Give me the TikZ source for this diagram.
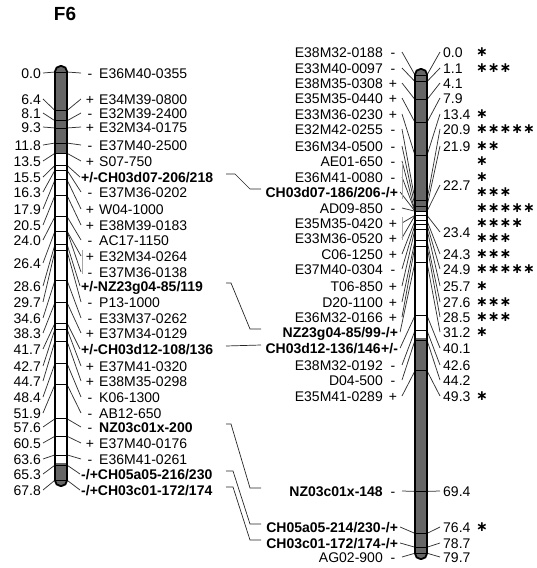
\documentclass[tikz,border=0pt]{standalone}
\usepackage{fontspec}
\setmainfont{Liberation Sans}
\newfontfamily\astfont{DejaVu Sans}
\newcommand{\LM}[5]{%
  \pgfmathsetmacro{\py}{72+6.02*#2}%
  \node[lbl,anchor=east] (ln#1) at (41,#3) {#2};
  \node[lbl] (ls#1) at (90,#3) {#4};
  \node[lbl,anchor=west] (lm#1) at (99,#3) {#5};
  \coordinate (lb#1) at (55,\py);
  \coordinate (lc#1) at (67,\py);
  \draw[tickline] (lb#1) -- (lc#1);
  \draw[lead] ([xshift=2pt]ln#1.east) -- (lb#1);
  \draw[lead] (lc#1) -- ([xshift=-9pt]ls#1.center);
}
\newcommand{\LMB}[4]{%
  \pgfmathsetmacro{\py}{72+6.02*#2}%
  \node[lbl,anchor=east] (ln#1) at (41,#3) {#2};
  \node[lbl,anchor=west,font=\fontsize{14}{14}\selectfont\bfseries] (lm#1) at (81,#3) {#4};
  \coordinate (lb#1) at (55,\py);
  \coordinate (lc#1) at (67,\py);
  \draw[tickline] (lb#1) -- (lc#1);
  \draw[lead] ([xshift=2pt]ln#1.east) -- (lb#1);
  \draw[lead] (lc#1) -- ([xshift=-1pt]lm#1.west);
}
\newcommand{\RM}[6]{%
  \pgfmathsetmacro{\py}{75+6*#2}%
  \node[lbl,anchor=east] (rm#1) at (383,#3) {#5};
  \node[lbl] (rs#1) at (393,#3) {#4};
  \coordinate (rb#1) at (415,\py);
  \coordinate (rc#1) at (427,\py);
  \draw[tickline] (rb#1) -- (rc#1);
  \draw[lead] ([xshift=9pt]rs#1.center) -- (rb#1);
  \node[lbl,anchor=west] (rn#1) at (443,#3) {#6};
  \draw[lead] (rc#1) -- ([xshift=-3pt]rn#1.west);
}
\newcommand{\RG}[5]{%
  \pgfmathsetmacro{\py}{75+6*#2}%
  \node[lbl,anchor=east] (rm#1) at (383,#3) {#5};
  \node[lbl] (rs#1) at (393,#3) {#4};
  \coordinate (rb#1) at (415,\py);
  \coordinate (rc#1) at (427,\py);
  \draw[tickline] (rb#1) -- (rc#1);
  \draw[lead] ([xshift=9pt]rs#1.center) -- (rb#1);
}
\newcommand{\RMD}[6]{%
  \pgfmathsetmacro{\py}{75+6*#2}%
  \node[lbl,anchor=east,font=\fontsize{14}{14}\selectfont\bfseries] (rm#1) at (381,#3) {#5};
  \node[lbl,anchor=west,font=\fontsize{14}{14}\selectfont\bfseries] (rs#1) at (rm#1.east) {#4};
  \coordinate (rb#1) at (415,\py);
  \coordinate (rc#1) at (427,\py);
  \draw[tickline] (rb#1) -- (rc#1);
  \draw[lead] ([xshift=2pt]rs#1.east) -- (rb#1);
  \node[lbl,anchor=west] (rn#1) at (443,#3) {#6};
  \draw[lead] (rc#1) -- ([xshift=-3pt]rn#1.west);
}
\newcommand{\RGD}[5]{%
  \pgfmathsetmacro{\py}{75+6*#2}%
  \node[lbl,anchor=east,font=\fontsize{14}{14}\selectfont\bfseries] (rm#1) at (381,#3) {#5};
  \node[lbl,anchor=west,font=\fontsize{14}{14}\selectfont\bfseries] (rs#1) at (rm#1.east) {#4};
  \coordinate (rb#1) at (415,\py);
  \coordinate (rc#1) at (427,\py);
  \draw[tickline] (rb#1) -- (rc#1);
  \draw[lead] ([xshift=2pt]rs#1.east) -- (rb#1);
}
\newcommand{\RA}[3]{\node[ast,anchor=west] (ra#1) at (476,#2) {#3};}
\begin{document}
\begin{tikzpicture}[x=1pt,y=-1pt,
  lbl/.style={inner sep=0pt,text height=10pt,text depth=0pt,font=\fontsize{14}{14}\selectfont},
  ast/.style={inner sep=0pt,font=\fontsize{14}{14}\selectfont\astfont\bfseries},
  lead/.style={line width=0.75pt,black!80},
  tickline/.style={line width=0.7pt,black},
  chrom/.style={line width=1.8pt,black,rounded corners=5.5pt},
  shadefill/.style={fill=black!60},
  brk/.style={line width=0.7pt,black!35},
  conn/.style={line width=0.7pt,black!85}
]
\useasboundingbox (0,0) rectangle (537,568);
\node[font=\fontsize{19}{19}\selectfont\bfseries,inner sep=0pt] (title) at (65,14) {F6};

% ---------- left chromosome -------------
\begin{scope}
  \clip[rounded corners=5.5pt] (55,66) rectangle (67,486);
  \fill[shadefill] (55,60) rectangle (67,153);
  \fill[shadefill] (55,463) rectangle (67,490);
\end{scope}
\LM{1}{0.0}{73}{-}{E36M40-0355}
\LM{2}{6.4}{99}{+}{E34M39-0800}
\LM{3}{8.1}{113}{-}{E32M39-2400}
\LM{4}{9.3}{127}{+}{E32M34-0175}
\LM{5}{11.8}{145}{-}{E37M40-2500}
\LM{6}{13.5}{161}{+}{S07-750}
\LMB{7}{15.5}{177}{+/-CH03d07-206/218}
\LM{8}{16.3}{192}{-}{E37M36-0202}
\LM{9}{17.9}{209}{+}{W04-1000}
\LM{10}{20.5}{225}{+}{E38M39-0183}
\LM{11}{24.0}{240}{-}{AC17-1150}
% group at 26.4
\node[lbl,anchor=east] (ln12) at (41,263) {26.4};
\coordinate (lb12) at (55,231);
\coordinate (lc12) at (67,231);
\draw[tickline] (lb12) -- (lc12);
\draw[lead] ([xshift=2pt]ln12.east) -- (lb12);
\node[lbl] (ls12a) at (90,256) {+};
\node[lbl,anchor=west] (lm12a) at (99,256) {E32M34-0264};
\node[lbl] (ls12b) at (90,272) {-};
\node[lbl,anchor=west] (lm12b) at (99,272) {E37M36-0138};
\draw[lead] (lc12) -- ([xshift=-9pt]ls12a.center);
\draw[lead] (lc12) -- ([xshift=-9pt]ls12b.center);
\draw[brk] ([xshift=-8pt,yshift=6pt]ls12a.center) -- ([xshift=-8pt,yshift=-2pt]ls12b.center);
\LMB{13}{28.6}{286}{+/-NZ23g04-85/119}
\LM{14}{29.7}{302}{-}{P13-1000}
\LM{15}{34.6}{318}{-}{E33M37-0262}
\LM{16}{38.3}{333}{+}{E37M34-0129}
\LMB{17}{41.7}{349}{+/-CH03d12-108/136}
\LM{18}{42.7}{366}{+}{E37M41-0320}
\LM{19}{44.7}{381}{+}{E38M35-0298}
\LM{20}{48.4}{397}{-}{K06-1300}
\LM{21}{51.9}{413}{-}{AB12-650}
\LM{22}{57.6}{427}{-}{\bfseries NZ03c01x-200}
\LM{23}{60.5}{443}{+}{E37M40-0176}
\LM{24}{63.6}{459}{-}{E36M41-0261}
\LMB{25}{65.3}{474}{-/+CH05a05-216/230}
\LMB{26}{67.8}{490}{-/+CH03c01-172/174}
\draw[chrom] (55,66) rectangle (67,486);

% ---------- right chromosome -------------
\begin{scope}
  \clip[rounded corners=5.5pt] (415,69) rectangle (427,559);
  \fill[shadefill] (415,60) rectangle (427,212);
  \fill[shadefill] (415,338) rectangle (427,565);
\end{scope}
\RM{1}{0.0}{52}{-}{E38M32-0188}{0.0}
\RM{2}{1.1}{68}{-}{E33M40-0097}{1.1}
\RM{3}{4.1}{83}{+}{E38M35-0308}{4.1}
\RM{4}{7.9}{98}{+}{E35M35-0440}{7.9}
\RM{5}{13.4}{114}{+}{E33M36-0230}{13.4}
\RM{6}{20.9}{129}{-}{E32M42-0255}{20.9}
\RM{7}{21.9}{146}{-}{E36M34-0500}{21.9}
\RG{8}{22.7}{161}{-}{AE01-650}
\RG{9}{22.7}{177}{-}{E36M41-0080}
\RGD{10}{22.7}{192}{-/+}{CH03d07-186/206}
\RG{11}{22.7}{208}{-}{AD09-850}
\node[lbl,anchor=west] (rn8) at (443,185) {22.7};
\draw[lead] (rc8) -- ([xshift=-3pt]rn8.west);
\draw[brk] (402,163) -- (402,199);
\RG{12}{23.4}{223}{+}{E35M35-0420}
\RG{13}{23.4}{238}{+}{E33M36-0520}
\node[lbl,anchor=west] (rn12) at (443,232) {23.4};
\draw[lead] (rc12) -- ([xshift=-3pt]rn12.west);
\draw[brk] (402,217) -- (402,240);
\RM{14}{24.3}{254}{+}{C06-1250}{24.3}
\RM{15}{24.9}{269}{-}{E37M40-0304}{24.9}
\RM{16}{25.7}{286}{+}{T06-850}{25.7}
\RM{17}{27.6}{302}{+}{D20-1100}{27.6}
\RM{18}{28.5}{317}{+}{E36M32-0166}{28.5}
\RMD{19}{31.2}{332}{-/+}{NZ23g04-85/99}{31.2}
\RMD{20}{40.1}{348}{+/-}{CH03d12-136/146}{40.1}
\RM{21}{42.6}{365}{-}{E38M32-0192}{42.6}
\RM{22}{44.2}{380}{-}{D04-500}{44.2}
\RM{23}{49.3}{396}{+}{E35M41-0289}{49.3}
\RM{24}{69.4}{491}{-}{\bfseries NZ03c01x-148}{69.4}
\RMD{25}{76.4}{527}{-/+}{CH05a05-214/230}{76.4}
\RMD{26}{78.7}{543}{-/+}{CH03c01-172/174}{78.7}
\RM{27}{79.7}{557}{-}{AG02-900}{79.7}
\draw[chrom] (415,69) rectangle (427,559);

% asterisks
\RA{1}{52}{∗}
\RA{2}{68}{∗∗∗}
\RA{5}{114}{∗}
\RA{6}{129}{∗∗∗∗∗}
\RA{7}{146}{∗∗}
\RA{8}{161}{∗}
\RA{9}{177}{∗}
\RA{10}{192}{∗∗∗}
\RA{11}{208}{∗∗∗∗∗}
\RA{12}{223}{∗∗∗∗}
\RA{13}{238}{∗∗∗}
\RA{14}{254}{∗∗∗}
\RA{15}{269}{∗∗∗∗∗}
\RA{16}{286}{∗}
\RA{17}{302}{∗∗∗}
\RA{18}{317}{∗∗∗}
\RA{19}{332}{∗}
\RA{23}{396}{∗}
\RA{25}{527}{∗}

% ---------- connectors between homologous markers -------------
\coordinate (cl) at (226,0);
\coordinate (cm) at (250,0);
\coordinate (cr) at (261,0);
\begin{scope}[transform canvas={yshift=3pt}]
\draw[conn] (lm7.east -| cl) -- ++(9,0) -- (rm10.west -| cm) -- (rm10.west -| cr);
\draw[conn] (lm13.east -| cl) -- ++(5,0) -- (rm19.west -| cm) -- (rm19.west -| cr);
\draw[conn] (lm17.east -| cl) -- (rm20.west -| cr);
\draw[conn] (lm22.east -| cl) -- ++(5,0) -- (rm24.west -| cm) -- (rm24.west -| cr);
\draw[conn] (lm25.east -| cl) -- ++(7,0) -- (rm25.west -| cm) -- (rm25.west -| cr);
\draw[conn] (lm26.east -| cl) -- ++(7,0) -- (rm26.west -| cm) -- (rm26.west -| cr);
\end{scope}
\end{tikzpicture}
\end{document}
